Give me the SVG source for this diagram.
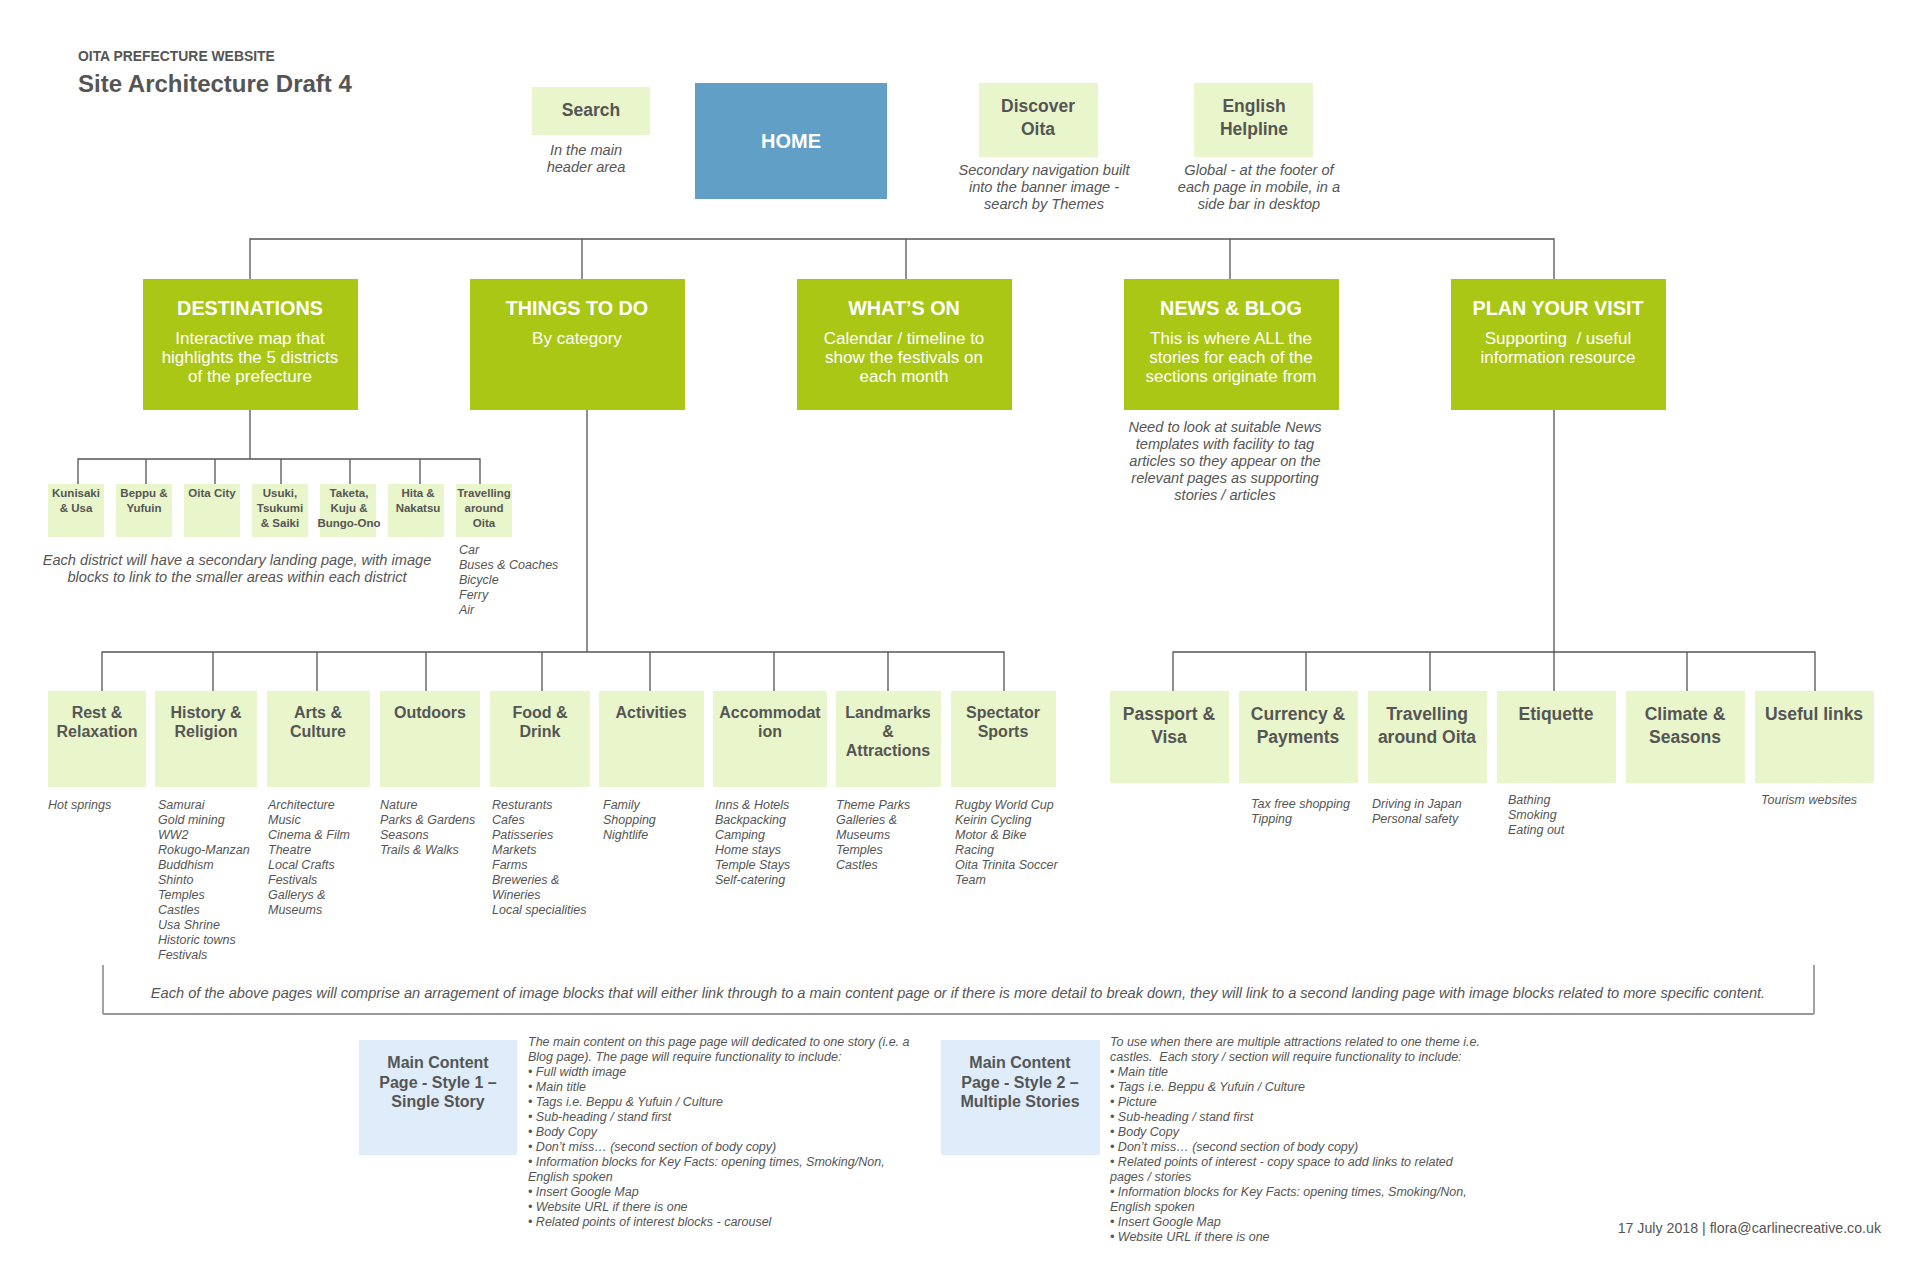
<svg xmlns="http://www.w3.org/2000/svg" width="1920" height="1264" viewBox="0 0 1920 1264">
<style>
text{font-family:"Liberation Sans",Arial,Helvetica,sans-serif;fill:#555}
.b{font-weight:bold}
.i{font-style:italic}
.c{text-anchor:middle}
.main{fill:#a9c714}
.lt{fill:#e9f5ca}
.bl{fill:#deedf9}
.mt{font-weight:bold;font-size:19.8px;fill:#fff;text-anchor:middle}
.ms{font-size:17px;fill:#fff;text-anchor:middle}
.cap{font-style:italic;font-size:14.6px;text-anchor:middle}
.dt{font-weight:bold;font-size:11.5px;text-anchor:middle}
.st{font-weight:bold;font-size:16px;text-anchor:middle}
.pt{font-weight:bold;font-size:17.5px;text-anchor:middle}
.li{font-style:italic;font-size:12.5px}
.ds{font-style:italic;font-size:12.5px}
.conn{fill:none;stroke:#555;stroke-width:1.3}
</style>
<rect width="1920" height="1264" fill="#fff"/>
<g id="title">
<text x="78" y="61" class="b" font-size="13.9">OITA PREFECTURE WEBSITE</text>
<text x="78" y="92" class="b" font-size="24">Site Architecture Draft 4</text>
</g>
<g id="connectors">
<path class="conn" d="M250 279V239H1554V279M582 239V279M906 239V279M1230 239V279"/>
<path class="conn" d="M250 410V459M78 484V459H480V484M146 459V484M215 459V484M281 459V484M350 459V484M420 459V484"/>
<path class="conn" d="M587 410V652M102 691V652H1004V691M213 652V691M317 652V691M426 652V691M542 652V691M650 652V691M774 652V691M888 652V691"/>
<path class="conn" d="M1554 410V691M1173 691V652H1815V691M1306 652V691M1430 652V691M1687 652V691"/>
<path d="M103 965V1014M1814 965V1014" fill="none" stroke="#666" stroke-width="1.2"/>
<path d="M103 1014H1814" fill="none" stroke="#999" stroke-width="2"/>
</g>
<g id="search">
<rect class="lt" x="532" y="87" width="118" height="48"/>
<text x="591" y="116" class="b c" font-size="17.5">Search</text>
<text class="cap" x="586"><tspan x="586" y="155">In the main</tspan><tspan x="586" y="172">header area</tspan></text>
</g>
<g id="home">
<rect x="695" y="83" width="192" height="116" fill="#619fc6"/>
<text x="791" y="148" class="b c" font-size="20" style="fill:#fff">HOME</text>
</g>
<g id="discover">
<rect class="lt" x="979" y="83" width="119" height="74"/>
<text class="b c" font-size="17.5"><tspan x="1038" y="112">Discover</tspan><tspan x="1038" y="135">Oita</tspan></text>
<text class="cap"><tspan x="1044" y="175">Secondary navigation built</tspan><tspan x="1044" y="192">into the banner image -</tspan><tspan x="1044" y="209">search by Themes</tspan></text>
</g>
<g id="helpline">
<rect class="lt" x="1194" y="83" width="119" height="74"/>
<text class="b c" font-size="17.5"><tspan x="1254" y="112">English</tspan><tspan x="1254" y="135">Helpline</tspan></text>
<text class="cap"><tspan x="1259" y="175">Global - at the footer of</tspan><tspan x="1259" y="192">each page in mobile, in a</tspan><tspan x="1259" y="209">side bar in desktop</tspan></text>
</g>
<g id="destinations">
<rect class="main" x="143" y="279" width="215" height="131"/>
<text class="mt" x="250" y="315">DESTINATIONS</text>
<text class="ms"><tspan x="250" y="344">Interactive map that</tspan><tspan x="250" y="363">highlights the 5 districts</tspan><tspan x="250" y="382">of the prefecture</tspan></text>
</g>
<g id="things-to-do">
<rect class="main" x="470" y="279" width="215" height="131"/>
<text class="mt" x="577" y="315">THINGS TO DO</text>
<text class="ms" x="577" y="344">By category</text>
</g>
<g id="whats-on">
<rect class="main" x="797" y="279" width="215" height="131"/>
<text class="mt" x="904" y="315">WHAT’S ON</text>
<text class="ms"><tspan x="904" y="344">Calendar / timeline to</tspan><tspan x="904" y="363">show the festivals on</tspan><tspan x="904" y="382">each month</tspan></text>
</g>
<g id="news-blog">
<rect class="main" x="1124" y="279" width="215" height="131"/>
<text class="mt" x="1231" y="315">NEWS &amp; BLOG</text>
<text class="ms"><tspan x="1231" y="344">This is where ALL the</tspan><tspan x="1231" y="363">stories for each of the</tspan><tspan x="1231" y="382">sections originate from</tspan></text>
<text class="cap"><tspan x="1225" y="432">Need to look at suitable News</tspan><tspan x="1225" y="449">templates with facility to tag</tspan><tspan x="1225" y="466">articles so they appear on the</tspan><tspan x="1225" y="483">relevant pages as supporting</tspan><tspan x="1225" y="500">stories / articles</tspan></text>
</g>
<g id="plan-your-visit">
<rect class="main" x="1451" y="279" width="215" height="131"/>
<text class="mt" x="1558" y="315">PLAN YOUR VISIT</text>
<text class="ms"><tspan x="1558" y="344" xml:space="preserve">Supporting  / useful</tspan><tspan x="1558" y="363">information resource</tspan></text>
</g>
<g id="d-kunisaki"><rect class="lt" x="48" y="484" width="56" height="53"/><text class="dt"><tspan x="76" y="497">Kunisaki</tspan><tspan x="76" y="512">&amp; Usa</tspan></text></g>
<g id="d-beppu"><rect class="lt" x="116" y="484" width="56" height="53"/><text class="dt"><tspan x="144" y="497">Beppu &amp;</tspan><tspan x="144" y="512">Yufuin</tspan></text></g>
<g id="d-oita"><rect class="lt" x="184" y="484" width="56" height="53"/><text class="dt"><tspan x="212" y="497">Oita City</tspan></text></g>
<g id="d-usuki"><rect class="lt" x="252" y="484" width="56" height="53"/><text class="dt"><tspan x="280" y="497">Usuki,</tspan><tspan x="280" y="512">Tsukumi</tspan><tspan x="280" y="527">&amp; Saiki</tspan></text></g>
<g id="d-taketa"><rect class="lt" x="320" y="484" width="56" height="53"/><text class="dt"><tspan x="349" y="497">Taketa,</tspan><tspan x="349" y="512">Kuju &amp;</tspan><tspan x="349" y="527">Bungo-Ono</tspan></text></g>
<g id="d-hita"><rect class="lt" x="388" y="484" width="56" height="53"/><text class="dt"><tspan x="418" y="497">Hita &amp;</tspan><tspan x="418" y="512">Nakatsu</tspan></text></g>
<g id="d-travelling"><rect class="lt" x="456" y="484" width="56" height="53"/><text class="dt"><tspan x="484" y="497">Travelling</tspan><tspan x="484" y="512">around</tspan><tspan x="484" y="527">Oita</tspan></text>
<text class="li"><tspan x="459" y="554">Car</tspan><tspan x="459" y="569">Buses &amp; Coaches</tspan><tspan x="459" y="584">Bicycle</tspan><tspan x="459" y="599">Ferry</tspan><tspan x="459" y="614">Air</tspan></text></g>
<text class="cap"><tspan x="237" y="565">Each district will have a secondary landing page, with image</tspan><tspan x="237" y="582">blocks to link to the smaller areas within each district</tspan></text>
<g id="t-rest"><rect class="lt" x="48" y="691" width="98" height="96"/><text class="st"><tspan x="97" y="718">Rest &amp;</tspan><tspan x="97" y="737">Relaxation</tspan></text>
<text class="li"><tspan x="48" y="809">Hot springs</tspan></text></g>
<g id="t-history"><rect class="lt" x="155" y="691" width="102" height="96"/><text class="st"><tspan x="206" y="718">History &amp;</tspan><tspan x="206" y="737">Religion</tspan></text>
<text class="li"><tspan x="158" y="809">Samurai</tspan><tspan x="158" y="824">Gold mining</tspan><tspan x="158" y="839">WW2</tspan><tspan x="158" y="854">Rokugo-Manzan</tspan><tspan x="158" y="869">Buddhism</tspan><tspan x="158" y="884">Shinto</tspan><tspan x="158" y="899">Temples</tspan><tspan x="158" y="914">Castles</tspan><tspan x="158" y="929">Usa Shrine</tspan><tspan x="158" y="944">Historic towns</tspan><tspan x="158" y="959">Festivals</tspan></text></g>
<g id="t-arts"><rect class="lt" x="267" y="691" width="103" height="96"/><text class="st"><tspan x="318" y="718">Arts &amp;</tspan><tspan x="318" y="737">Culture</tspan></text>
<text class="li"><tspan x="268" y="809">Architecture</tspan><tspan x="268" y="824">Music</tspan><tspan x="268" y="839">Cinema &amp; Film</tspan><tspan x="268" y="854">Theatre</tspan><tspan x="268" y="869">Local Crafts</tspan><tspan x="268" y="884">Festivals</tspan><tspan x="268" y="899">Gallerys &amp;</tspan><tspan x="268" y="914">Museums</tspan></text></g>
<g id="t-outdoors"><rect class="lt" x="380" y="691" width="100" height="96"/><text class="st"><tspan x="430" y="718">Outdoors</tspan></text>
<text class="li"><tspan x="380" y="809">Nature</tspan><tspan x="380" y="824">Parks &amp; Gardens</tspan><tspan x="380" y="839">Seasons</tspan><tspan x="380" y="854">Trails &amp; Walks</tspan></text></g>
<g id="t-food"><rect class="lt" x="490" y="691" width="100" height="96"/><text class="st"><tspan x="540" y="718">Food &amp;</tspan><tspan x="540" y="737">Drink</tspan></text>
<text class="li"><tspan x="492" y="809">Resturants</tspan><tspan x="492" y="824">Cafes</tspan><tspan x="492" y="839">Patisseries</tspan><tspan x="492" y="854">Markets</tspan><tspan x="492" y="869">Farms</tspan><tspan x="492" y="884">Breweries &amp;</tspan><tspan x="492" y="899">Wineries</tspan><tspan x="492" y="914">Local specialities</tspan></text></g>
<g id="t-activities"><rect class="lt" x="599" y="691" width="105" height="96"/><text class="st"><tspan x="651" y="718">Activities</tspan></text>
<text class="li"><tspan x="603" y="809">Family</tspan><tspan x="603" y="824">Shopping</tspan><tspan x="603" y="839">Nightlife</tspan></text></g>
<g id="t-accommodation"><rect class="lt" x="713" y="691" width="114" height="96"/><text class="st"><tspan x="770" y="718">Accommodat</tspan><tspan x="770" y="737">ion</tspan></text>
<text class="li"><tspan x="715" y="809">Inns &amp; Hotels</tspan><tspan x="715" y="824">Backpacking</tspan><tspan x="715" y="839">Camping</tspan><tspan x="715" y="854">Home stays</tspan><tspan x="715" y="869">Temple Stays</tspan><tspan x="715" y="884">Self-catering</tspan></text></g>
<g id="t-landmarks"><rect class="lt" x="836" y="691" width="105" height="96"/><text class="st"><tspan x="888" y="718">Landmarks</tspan><tspan x="888" y="737">&amp;</tspan><tspan x="888" y="756">Attractions</tspan></text>
<text class="li"><tspan x="836" y="809">Theme Parks</tspan><tspan x="836" y="824">Galleries &amp;</tspan><tspan x="836" y="839">Museums</tspan><tspan x="836" y="854">Temples</tspan><tspan x="836" y="869">Castles</tspan></text></g>
<g id="t-spectator"><rect class="lt" x="951" y="691" width="105" height="96"/><text class="st"><tspan x="1003" y="718">Spectator</tspan><tspan x="1003" y="737">Sports</tspan></text>
<text class="li"><tspan x="955" y="809">Rugby World Cup</tspan><tspan x="955" y="824">Keirin Cycling</tspan><tspan x="955" y="839">Motor &amp; Bike</tspan><tspan x="955" y="854">Racing</tspan><tspan x="955" y="869">Oita Trinita Soccer</tspan><tspan x="955" y="884">Team</tspan></text></g>
<g id="p-passport"><rect class="lt" x="1110" y="691" width="119" height="92"/><text class="pt"><tspan x="1169" y="720">Passport &amp;</tspan><tspan x="1169" y="743">Visa</tspan></text></g>
<g id="p-currency"><rect class="lt" x="1239" y="691" width="119" height="92"/><text class="pt"><tspan x="1298" y="720">Currency &amp;</tspan><tspan x="1298" y="743">Payments</tspan></text>
<text class="li"><tspan x="1251" y="808">Tax free shopping</tspan><tspan x="1251" y="823">Tipping</tspan></text></g>
<g id="p-travelling"><rect class="lt" x="1368" y="691" width="119" height="92"/><text class="pt"><tspan x="1427" y="720">Travelling</tspan><tspan x="1427" y="743">around Oita</tspan></text>
<text class="li"><tspan x="1372" y="808">Driving in Japan</tspan><tspan x="1372" y="823">Personal safety</tspan></text></g>
<g id="p-etiquette"><rect class="lt" x="1497" y="691" width="119" height="92"/><text class="pt"><tspan x="1556" y="720">Etiquette</tspan></text>
<text class="li"><tspan x="1508" y="804">Bathing</tspan><tspan x="1508" y="819">Smoking</tspan><tspan x="1508" y="834">Eating out</tspan></text></g>
<g id="p-climate"><rect class="lt" x="1626" y="691" width="119" height="92"/><text class="pt"><tspan x="1685" y="720">Climate &amp;</tspan><tspan x="1685" y="743">Seasons</tspan></text></g>
<g id="p-links"><rect class="lt" x="1755" y="691" width="119" height="92"/><text class="pt"><tspan x="1814" y="720">Useful links</tspan></text>
<text class="li"><tspan x="1761" y="804">Tourism websites</tspan></text></g>
<text class="i c" x="958" y="998" font-size="14.6">Each of the above pages will comprise an arragement of image blocks that will either link through to a main content page or if there is more detail to break down, they will link to a second landing page with image blocks related to more specific content.</text>
<g id="style1">
<rect class="bl" x="359" y="1040" width="158" height="115"/>
<text class="st"><tspan x="438" y="1068">Main Content</tspan><tspan x="438" y="1087.5">Page - Style 1 –</tspan><tspan x="438" y="1107">Single Story</tspan></text>
<text class="ds"><tspan x="528" y="1046">The main content on this page page will dedicated to one story (i.e. a</tspan><tspan x="528" y="1061">Blog page). The page will require functionality to include:</tspan><tspan x="528" y="1076">• Full width image</tspan><tspan x="528" y="1091">• Main title</tspan><tspan x="528" y="1106">• Tags i.e. Beppu &amp; Yufuin / Culture</tspan><tspan x="528" y="1121">• Sub-heading / stand first</tspan><tspan x="528" y="1136">• Body Copy</tspan><tspan x="528" y="1151">• Don’t miss… (second section of body copy)</tspan><tspan x="528" y="1166">• Information blocks for Key Facts: opening times, Smoking/Non,</tspan><tspan x="528" y="1181">English spoken</tspan><tspan x="528" y="1196">• Insert Google Map</tspan><tspan x="528" y="1211">• Website URL if there is one</tspan><tspan x="528" y="1226">• Related points of interest blocks - carousel</tspan></text>
</g>
<g id="style2">
<rect class="bl" x="941" y="1040" width="159" height="115"/>
<text class="st"><tspan x="1020" y="1068">Main Content</tspan><tspan x="1020" y="1087.5">Page - Style 2 –</tspan><tspan x="1020" y="1107">Multiple Stories</tspan></text>
<text class="ds"><tspan x="1110" y="1046">To use when there are multiple attractions related to one theme i.e.</tspan><tspan x="1110" y="1061" xml:space="preserve">castles.  Each story / section will require functionality to include:</tspan><tspan x="1110" y="1076">• Main title</tspan><tspan x="1110" y="1091">• Tags i.e. Beppu &amp; Yufuin / Culture</tspan><tspan x="1110" y="1106">• Picture</tspan><tspan x="1110" y="1121">• Sub-heading / stand first</tspan><tspan x="1110" y="1136">• Body Copy</tspan><tspan x="1110" y="1151">• Don’t miss… (second section of body copy)</tspan><tspan x="1110" y="1166">• Related points of interest - copy space to add links to related</tspan><tspan x="1110" y="1181">pages / stories</tspan><tspan x="1110" y="1196">• Information blocks for Key Facts: opening times, Smoking/Non,</tspan><tspan x="1110" y="1211">English spoken</tspan><tspan x="1110" y="1226">• Insert Google Map</tspan><tspan x="1110" y="1241">• Website URL if there is one</tspan></text>
</g>
<text x="1881" y="1233" font-size="14.2" text-anchor="end">17 July 2018 | flora@carlinecreative.co.uk</text>
</svg>
